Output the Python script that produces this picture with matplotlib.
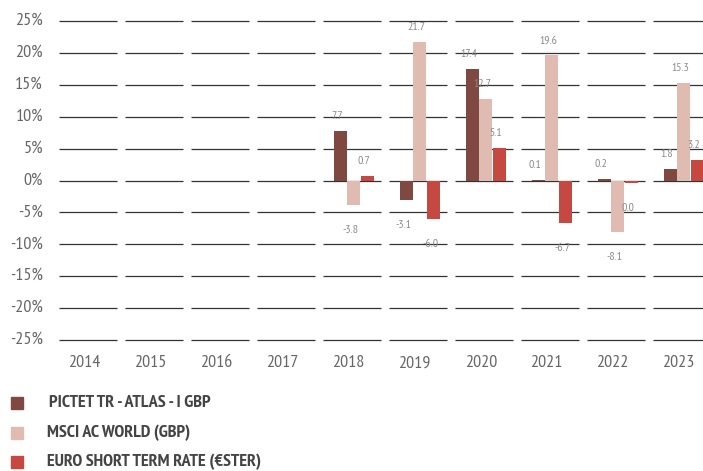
import matplotlib
matplotlib.use("Agg")
import matplotlib.pyplot as plt
import numpy as np
from matplotlib.patches import Rectangle

plt.rcParams["font.family"] = ["PT Sans Narrow", "DejaVu Sans"]

anos = ["2014", "2015", "2016", "2017", "2018", "2019", "2020", "2021", "2022", "2023"]
series = ["PICTET TR - ATLAS - I GBP", "MSCI AC WORLD (GBP)", "EURO SHORT TERM RATE (€STER)"]
nan = np.nan
pictet = [nan, nan, nan, nan, 7.7, -3.1, 17.4, 0.1, 0.2, 1.8]
msci = [nan, nan, nan, nan, -3.8, 21.7, 12.7, 19.6, -8.1, 15.3]
ester = [nan, nan, nan, nan, 0.7, -6.0, 5.1, -6.7, -0.4, 3.2]
rotulos = [
    ["", "", "", "", "7.7", "-3.1", "17.4", "0.1", "0.2", "1.8"],
    ["", "", "", "", "-3.8", "21.7", "12.7", "19.6", "-8.1", "15.3"],
    ["", "", "", "", "0.7", "-6.0", "5.1", "-6.7", "0.0", "3.2"],
]
cores = ["#7f4840", "#e0bbb2", "#c54841"]
eixo_y = [25, 20, 15, 10, 5, 0, -5, -10, -15, -20, -25]

W, H = 703, 471
fig = plt.figure(figsize=(W / 100, H / 100), dpi=100)
# eixo vai além da borda direita, como no original (última faixa cortada)
ax = fig.add_axes([55 / W, 1 - 343.2 / H, 660 / W, (343.2 - 17.8) / H])
ax.set_xlim(-0.5, 9.5)
ax.set_ylim(-25.5, 25.5)
ax.axis("off")

x = np.arange(len(anos))
for v in eixo_y:
    ax.hlines([v] * len(x), x - 0.44, x + 0.44, color="#333333", lw=0.9, zorder=1)
    ax.text(-0.5 - 12 / 66, v, f"{v}%", ha="right", va="center",
            fontsize=13, color="#666666")

for i, a in enumerate(anos):
    ax.text(i - 0.05, -25.5 - 20 / 6.38, a, ha="center", va="center",
            fontsize=13, color="#666666")

desloc = [-0.174, 0.023, 0.235]
for k, vals in enumerate([pictet, msci, ester]):
    vals = np.array(vals, dtype=float)
    xs = x + desloc[k]
    ax.bar(xs, vals, width=0.21, color=cores[k], zorder=2)
    for xi, vi, txt in zip(xs, vals, rotulos[k]):
        if np.isnan(vi):
            continue
        dy = 11 if vi > 0 else -18
        ax.annotate(txt, (xi, vi), xytext=(-2.5, dy), textcoords="offset points",
                    ha="center", va="center", fontsize=8.5, color="#8a8a8a",
                    zorder=3)

# legenda manual
for k, nome in enumerate(series):
    yc = 403 + k * 29.5
    fig.patches.append(Rectangle((11 / W, 1 - (yc + 6) / H), 12 / W, 12 / H,
                                 transform=fig.transFigure, color=cores[k]))
    fig.text((49 if k == 0 else 47) / W, 1 - yc / H, nome, ha="left",
             va="center", fontsize=13, fontweight="bold", color="#444444")

fig.savefig("out.png", dpi=100)
